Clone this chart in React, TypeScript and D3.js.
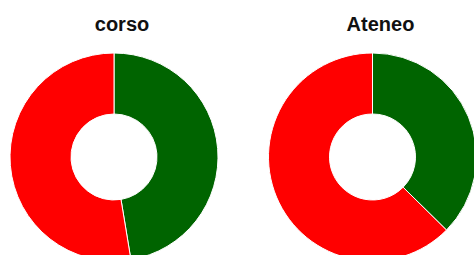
import React, { useRef, useEffect } from 'react';
import * as d3 from 'd3';

// chart titles and slice values (percent), first slice green, second red
const titles = ['corso', 'Ateneo'];
const categories = ['positivi', 'negativi'];
const corsoValues = [47.4, 52.6];
const ateneoValues = [37.4, 62.6];
const colors = ['#006400', '#ff0000'];

const App = () => {
    const ref = useRef<SVGSVGElement | null>(null);

    useEffect(() => {
        if (!ref.current) return;
        const svg = d3.select(ref.current);
        svg.selectAll('*').remove();

        const width = 474, height = 255;
        const outer = 104, inner = 43;
        const centers = [114, 372.5];
        const cy = 157;
        const series = [corsoValues, ateneoValues];

        const color = d3.scaleOrdinal<string, string>().domain(categories).range(colors);
        const pie = d3.pie<number>().sort(null).value(d => d);
        const arc = d3.arc<d3.PieArcDatum<number>>().innerRadius(inner).outerRadius(outer);

        svg.attr('width', width).attr('height', height);

        series.forEach((values, i) => {
            const g = svg.append('g').attr('transform', `translate(${centers[i]},${cy})`);

            g.selectAll('path')
                .data(pie(values))
                .enter().append('path')
                .attr('d', arc)
                .attr('fill', (d, j) => color(categories[j]))
                .attr('stroke', '#fff')
                .attr('stroke-width', 1);

            svg.append('text')
                .attr('x', centers[i] + 8)
                .attr('y', 31)
                .attr('text-anchor', 'middle')
                .style('font-family', 'Liberation Sans, Arial, sans-serif')
                .style('font-weight', 'bold')
                .style('font-size', '20px')
                .style('fill', '#111')
                .text(titles[i]);
        });
    }, []);

    return <svg ref={ref} style={{ position: 'absolute', left: 0, top: 0 }}></svg>;
};

export default App;
